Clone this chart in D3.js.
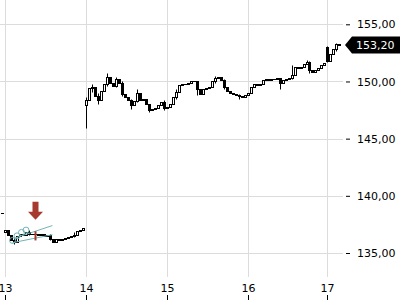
<!DOCTYPE html>
<html>
<head>
<meta charset="utf-8">
<script src="https://cdn.jsdelivr.net/npm/d3@7"></script>
<style>
    body { margin: 0; background: #fff; }
    svg { display: block; font-family: "DejaVu Sans", sans-serif; }
</style>
</head>
<body>
<div id="chart"></div>
<script>
// day labels and the candle index where each session starts
const dayLabels = ['13', '14', '15', '16', '17'];
const dayStarts = [0, 27, 54, 81, 108];
const sessionOpens = [136.8, 147.9, 147.7, 148.8, 153.0];

// closes from index -1 (last candle of previous session) to 112
const firstIndex = -1;
const closes = [
    138.5,
    137.0, 136.6, 136.1, 136.0, 136.5, 136.7, 136.6, 136.8, 136.7, 136.7, 136.7, 136.6, 136.7, 136.5,
    136.6, 136.2, 136.0, 136.2, 136.1, 136.2, 136.3, 136.4, 136.5, 136.6, 136.9, 137.0, 137.2,
    148.4, 149.4, 149.5, 148.7, 148.4, 149.2, 149.8, 150.4, 149.9, 149.6, 150.2, 149.9, 148.9, 148.6,
    148.4, 147.9, 148.3, 149.0, 148.4, 148.5, 148.0, 147.5, 147.6, 147.7, 147.9, 148.2, 147.7,
    147.8, 148.0, 148.6, 149.1, 149.7, 149.8, 149.8, 149.9, 150.0, 150.0, 149.3, 148.9, 149.3, 149.4,
    149.5, 150.0, 150.3, 150.4, 150.1, 149.5, 149.2, 149.0, 148.9, 148.8, 148.7, 148.6, 148.8,
    149.0, 149.5, 149.8, 149.7, 149.8, 150.1, 150.2, 150.1, 150.2, 150.2, 150.3, 149.9, 150.1, 150.2,
    150.3, 150.6, 151.3, 151.2, 151.3, 151.5, 151.7, 151.0, 150.8, 151.0, 151.2, 151.4, 151.6,
    151.8, 152.4, 152.8, 153.3, 153.2
];

// [index, low, high] for the visible wicks
const wicks = [
    [3, 135.8, 136.4], [8, 136.6, 137.0], [15, 136.1, 136.7], [23, 136.4, 136.8],
    [27, 145.9, 148.6], [29, 149.1, 149.8], [31, 148.0, 149.0], [34, 149.6, 150.7],
    [37, 149.5, 150.4], [39, 148.7, 150.0], [42, 147.6, 148.5], [44, 148.2, 149.3],
    [48, 147.3, 148.0], [53, 147.5, 148.4], [57, 148.5, 149.3], [64, 148.8, 150.0],
    [70, 149.9, 150.5], [73, 149.3, 150.2], [78, 148.5, 148.9], [92, 149.3, 150.3],
    [96, 150.2, 151.4], [101, 151.5, 151.9], [102, 150.7, 151.8], [108, 151.7, 153.1],
    [111, 152.7, 153.4]
];

const priceTicks = [135, 140, 145, 150, 155];
const lastPrice = 153.20;

// pattern markers on day 13
const markerIdx = [2.5, 4, 5.5, 7];
const markerPrice = [136.1, 136.5, 136.8, 137.0];
const trendLines = [
    [[3.2, 136.3], [15.8, 137.4]],
    [[2.5, 135.9], [15.8, 136.6]]
];
const signalIdx = 10;
const signalTip = 137.9;
const signalBar = [136.1, 136.9];

const width = 400, height = 300;
const plotRight = 343;

const fmt = d3.formatLocale({ decimal: ',', thousands: '.', grouping: [3], currency: ['', ''] }).format('.2f');

const svg = d3.select('#chart').append('svg')
    .attr('width', width)
    .attr('height', height);

const x = d3.scaleLinear().domain(dayStarts).range([5, 86, 167, 248, 327]);
const y = d3.scaleLinear().domain([135, 155]).range([253, 24.3]);
const px = v => Math.round(x(v)) + 0.5;
const py = v => Math.round(y(v)) + 0.5;

// grid
svg.append('g').selectAll('line')
    .data(priceTicks)
    .enter().append('line')
    .attr('x1', 0).attr('x2', plotRight)
    .attr('y1', d => py(d)).attr('y2', d => py(d))
    .attr('stroke', '#dcdcdc');

svg.append('g').selectAll('line')
    .data(dayStarts)
    .enter().append('line')
    .attr('x1', d => px(d)).attr('x2', d => px(d))
    .attr('y1', 0).attr('y2', 277)
    .attr('stroke', '#dcdcdc');

// x labels
svg.append('g').selectAll('text')
    .data(dayStarts)
    .enter().append('text')
    .attr('x', d => px(d))
    .attr('y', 292)
    .attr('text-anchor', 'middle')
    .style('font-size', '11px')
    .text((d, i) => dayLabels[i]);

svg.append('g').selectAll('line')
    .data(dayStarts)
    .enter().append('line')
    .attr('x1', d => px(d)).attr('x2', d => px(d))
    .attr('y1', 295).attr('y2', 300)
    .attr('stroke', '#000');

// y axis
const yAxis = svg.append('g')
    .attr('transform', 'translate(346, 0)')
    .call(d3.axisRight(y).tickValues(priceTicks).tickSize(4).tickPadding(7).tickFormat(fmt));
yAxis.select('.domain').remove();
yAxis.selectAll('text').style('font-size', '11px').style('font-family', '"DejaVu Sans", sans-serif');

// candles
const candles = closes.map((c, k) => {
    const i = k + firstIndex;
    const s = dayStarts.indexOf(i);
    const o = s >= 0 ? sessionOpens[s] : (k > 0 ? closes[k - 1] : c);
    return { i, o, c };
});

const plot = svg.append('g');

plot.selectAll('.wick')
    .data(wicks)
    .enter().append('line')
    .attr('class', 'wick')
    .attr('x1', d => px(d[0])).attr('x2', d => px(d[0]))
    .attr('y1', d => py(d[2])).attr('y2', d => py(d[1]))
    .attr('stroke', '#000');

const bodies = candles.filter(d => py(d.o) !== py(d.c));
const dojis = candles.filter(d => py(d.o) === py(d.c));

plot.selectAll('.body')
    .data(bodies)
    .enter().append('rect')
    .attr('class', 'body')
    .attr('x', d => px(d.i) - 1)
    .attr('y', d => py(Math.max(d.o, d.c)))
    .attr('width', 2)
    .attr('height', d => Math.abs(py(d.o) - py(d.c)))
    .attr('fill', d => d.c >= d.o ? '#fff' : '#000')
    .attr('stroke', '#000')
    .attr('stroke-width', 1);

plot.selectAll('.doji')
    .data(dojis)
    .enter().append('line')
    .attr('class', 'doji')
    .attr('x1', d => px(d.i) - 1.5).attr('x2', d => px(d.i) + 1.5)
    .attr('y1', d => py(d.c)).attr('y2', d => py(d.c))
    .attr('stroke', '#000');

// pattern annotation
const teal = '#72b4b8';
svg.append('g').selectAll('line')
    .data(trendLines)
    .enter().append('line')
    .attr('x1', d => x(d[0][0])).attr('y1', d => y(d[0][1]))
    .attr('x2', d => x(d[1][0])).attr('y2', d => y(d[1][1]))
    .attr('stroke', teal)
    .attr('stroke-width', 1);

svg.append('g').selectAll('circle')
    .data(markerIdx)
    .enter().append('circle')
    .attr('cx', d => x(d))
    .attr('cy', (d, i) => y(markerPrice[i]))
    .attr('r', 3)
    .attr('fill', 'none')
    .attr('stroke', teal);

const red = '#a63a2e';
const ax = px(signalIdx), ay = y(signalTip);
svg.append('path')
    .attr('d', `M${ax - 3},${ay - 18}H${ax + 3}V${ay - 8}H${ax + 7.5}L${ax},${ay}L${ax - 7.5},${ay - 8}H${ax - 3}Z`)
    .attr('fill', red);

svg.append('line')
    .attr('x1', ax).attr('x2', ax)
    .attr('y1', y(signalBar[1])).attr('y2', y(signalBar[0]))
    .attr('stroke', red)
    .attr('stroke-width', 2);

// last price label
const ly = y(lastPrice);
svg.append('path')
    .attr('d', `M345,${ly}L352,${ly - 8.5}H400V${ly + 8.5}H352Z`)
    .attr('fill', '#000');
svg.append('text')
    .attr('x', 356)
    .attr('y', ly + 4)
    .attr('fill', '#fff')
    .style('font-size', '11px')
    .text(fmt(lastPrice));
</script>
</body>
</html>
